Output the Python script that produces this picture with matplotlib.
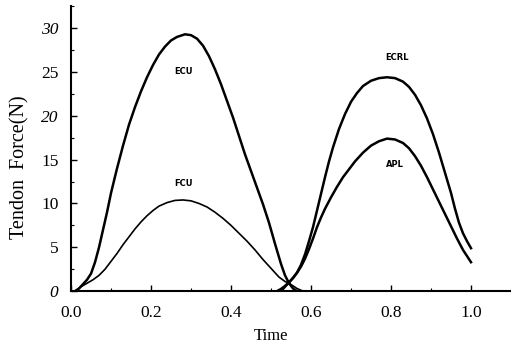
import matplotlib
matplotlib.use("Agg")
import matplotlib.pyplot as plt
from matplotlib.ticker import MultipleLocator

plt.rcParams["font.family"] = ["Liberation Serif", "DejaVu Serif"]

# --- Data ---
ecu_t = [0.01, 0.02, 0.03, 0.04, 0.05, 0.06, 0.07, 0.08, 0.09, 0.10, 0.115,
         0.13, 0.145, 0.16, 0.175, 0.19, 0.205, 0.22, 0.235, 0.25, 0.265, 0.285,
         0.30, 0.315, 0.33, 0.345, 0.36, 0.375, 0.39, 0.405, 0.42, 0.435, 0.45,
         0.465, 0.48, 0.495, 0.51, 0.525, 0.535, 0.545, 0.555, 0.565]
ecu_f = [0.0, 0.3, 0.8, 1.3, 2.0, 3.3, 5.0, 7.0, 9.0, 11.2, 14.0,
         16.6, 19.0, 21.0, 22.8, 24.4, 25.8, 27.0, 27.9, 28.6, 29.0, 29.3,
         29.2, 28.8, 28.0, 26.8, 25.3, 23.6, 21.7, 19.8, 17.7, 15.6, 13.7,
         11.8, 9.9, 7.8, 5.4, 3.1, 1.8, 0.9, 0.3, 0.0]

fcu_t = [0.01, 0.025, 0.04, 0.055, 0.07, 0.085, 0.10, 0.115, 0.13, 0.145, 0.16,
         0.175, 0.19, 0.205, 0.22, 0.24, 0.26, 0.28, 0.30, 0.32, 0.34, 0.36,
         0.38, 0.40, 0.42, 0.44, 0.46, 0.48, 0.50, 0.52, 0.535, 0.545, 0.555,
         0.565, 0.58]
fcu_f = [0.0, 0.5, 0.9, 1.3, 1.8, 2.5, 3.4, 4.3, 5.3, 6.2, 7.1,
         7.9, 8.6, 9.2, 9.7, 10.1, 10.35, 10.4, 10.3, 10.0, 9.6, 9.0,
         8.3, 7.5, 6.6, 5.7, 4.7, 3.6, 2.6, 1.6, 1.1, 0.9, 0.6,
         0.3, 0.0]

ecrl_t = [0.515, 0.525, 0.535, 0.545, 0.555, 0.565, 0.575, 0.585, 0.595, 0.605,
          0.615, 0.625, 0.635, 0.645, 0.655, 0.67, 0.685, 0.70, 0.715, 0.73,
          0.75, 0.77, 0.79, 0.81, 0.83, 0.845, 0.86, 0.875, 0.89, 0.905, 0.92,
          0.935, 0.95, 0.96, 0.97, 0.98, 0.99, 1.0]
ecrl_f = [0.0, 0.25, 0.6, 1.0, 1.5, 2.1, 3.0, 4.2, 5.7, 7.3,
          9.2, 11.1, 13.0, 14.8, 16.4, 18.5, 20.2, 21.6, 22.6, 23.4,
          24.0, 24.3, 24.4, 24.3, 23.9, 23.3, 22.4, 21.2, 19.7, 17.9, 15.8,
          13.5, 11.2, 9.4, 7.8, 6.6, 5.7, 4.9]

apl_t = [0.525, 0.535, 0.545, 0.555, 0.565, 0.575, 0.585, 0.595, 0.605, 0.615,
         0.625, 0.635, 0.65, 0.665, 0.68, 0.695, 0.71, 0.73, 0.75, 0.77, 0.79,
         0.81, 0.83, 0.845, 0.86, 0.875, 0.89, 0.905, 0.92, 0.935, 0.95, 0.965,
         0.98, 0.99, 1.0]
apl_f = [0.0, 0.5, 1.0, 1.5, 2.1, 2.8, 3.7, 4.8, 6.0, 7.3,
         8.4, 9.4, 10.7, 11.9, 13.0, 13.9, 14.8, 15.8, 16.6, 17.1, 17.4,
         17.3, 16.9, 16.3, 15.4, 14.3, 13.0, 11.6, 10.2, 8.8, 7.4, 6.0,
         4.7, 4.0, 3.3]

labels = ["ECU", "FCU", "ECRL", "APL"]
label_pos = [(0.28, 25.0), (0.28, 12.3), (0.815, 26.6), (0.81, 14.4)]

x_ticks = [0.0, 0.2, 0.4, 0.6, 0.8, 1.0]
y_ticks = [0, 5, 10, 15, 20, 25, 30]

# --- Plot ---
fig = plt.figure(figsize=(5.11, 3.47), dpi=100)
ax = fig.add_axes([0.139, 0.161, 0.861, 0.821])

ax.plot(ecu_t, ecu_f, color="black", linewidth=1.8)
ax.plot(fcu_t, fcu_f, color="black", linewidth=1.2)
ax.plot(ecrl_t, ecrl_f, color="black", linewidth=1.8)
ax.plot(apl_t, apl_f, color="black", linewidth=1.8)

for name, (lx, ly) in zip(labels, label_pos):
    ax.text(lx, ly, name, family="DejaVu Sans", fontsize=6, fontweight="bold",
            ha="center", va="center")

ax.set_xlim(0, 1.1)
ax.set_ylim(0, 32.5)
ax.spines["top"].set_visible(False)
ax.spines["right"].set_visible(False)
ax.spines["left"].set_linewidth(1.5)
ax.spines["bottom"].set_linewidth(1.5)

ax.set_xticks(x_ticks)
ax.set_xticklabels([f"{v:.1f}" for v in x_ticks])
ax.set_yticks(y_ticks)
ax.set_yticklabels([str(v) for v in y_ticks])
for lbl, v in zip(ax.get_yticklabels(), y_ticks):
    if v in (0, 20, 30):
        lbl.set_style("italic")
ax.xaxis.set_minor_locator(MultipleLocator(0.1))
ax.yaxis.set_minor_locator(MultipleLocator(2.5))
ax.tick_params(direction="in", which="major", length=4, width=1, labelsize=12.5)
ax.tick_params(axis="x", which="major", pad=10)
ax.tick_params(axis="y", which="major", pad=9)
ax.tick_params(direction="in", which="minor", length=2, width=0.8)

ax.set_xlabel("Time", fontsize=12)
ax.xaxis.set_label_coords(0.5 / 1.1, -0.13)
ax.set_ylabel("Tendon  Force(N)", fontsize=14.5)
ax.yaxis.set_label_coords(-0.095, 0.435)

fig.savefig("out.png", dpi=100)
